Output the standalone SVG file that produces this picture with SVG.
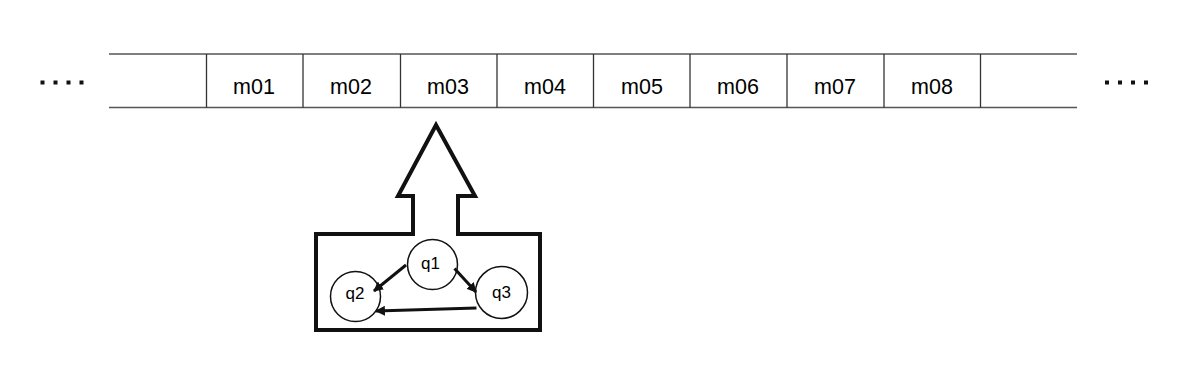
<svg xmlns="http://www.w3.org/2000/svg" width="1200" height="384" viewBox="0 0 1200 384">
<style>
.tape{stroke:#555;stroke-width:1.5;fill:none}
.div{stroke:#333;stroke-width:1.3}
.lbl{font-family:"Liberation Sans",Arial,sans-serif;font-size:21.5px;fill:#000;text-anchor:middle}
.ql{font-family:"Liberation Sans",Arial,sans-serif;font-size:17px;fill:#000;text-anchor:middle}
.st{fill:#fff;stroke:#111;stroke-width:1.5}
.edge{stroke:#111;stroke-width:3;fill:none;marker-end:url(#ah)}
.dot{fill:#111}
</style>
<defs>
<marker id="ah" viewBox="0 0 10 10" refX="9" refY="5" markerWidth="3.3" markerHeight="3.3" orient="auto" markerUnits="strokeWidth">
<path d="M0,0 L10,5 L0,10 Z" fill="#111"/>
</marker>
</defs>
<rect width="1200" height="384" fill="#fff"/>
<g id="dots-left">
<rect class="dot" x="40.5" y="80.5" width="4" height="4"/>
<rect class="dot" x="53.5" y="80.5" width="4" height="4"/>
<rect class="dot" x="66.5" y="80.5" width="4" height="4"/>
<rect class="dot" x="79.5" y="80.5" width="4" height="4"/>
</g>
<g id="dots-right">
<rect class="dot" x="1105" y="80.5" width="4" height="4"/>
<rect class="dot" x="1118" y="80.5" width="4" height="4"/>
<rect class="dot" x="1131" y="80.5" width="4" height="4"/>
<rect class="dot" x="1144" y="80.5" width="4" height="4"/>
</g>
<g id="tape">
<line class="tape" x1="109" y1="54" x2="1077" y2="54"/>
<line class="tape" x1="109" y1="107.5" x2="1077" y2="107.5"/>
<line class="div" x1="206.5" y1="54" x2="206.5" y2="107.5"/>
<line class="div" x1="303" y1="54" x2="303" y2="107.5"/>
<line class="div" x1="400.5" y1="54" x2="400.5" y2="107.5"/>
<line class="div" x1="497" y1="54" x2="497" y2="107.5"/>
<line class="div" x1="593.5" y1="54" x2="593.5" y2="107.5"/>
<line class="div" x1="690" y1="54" x2="690" y2="107.5"/>
<line class="div" x1="787" y1="54" x2="787" y2="107.5"/>
<line class="div" x1="884" y1="54" x2="884" y2="107.5"/>
<line class="div" x1="980.5" y1="54" x2="980.5" y2="107.5"/>
</g>
<g id="cells">
<text class="lbl" x="254" y="93.5">m01</text>
<text class="lbl" x="351" y="93.5">m02</text>
<text class="lbl" x="448" y="93.5">m03</text>
<text class="lbl" x="545" y="93.5">m04</text>
<text class="lbl" x="642" y="93.5">m05</text>
<text class="lbl" x="738" y="93.5">m06</text>
<text class="lbl" x="835" y="93.5">m07</text>
<text class="lbl" x="932" y="93.5">m08</text>
</g>
<g id="machine">
<path d="M316,234 L413,234 L413,196 L398,196 L436,125 L475,196 L458,196 L458,234 L540,234 L540,330 L316,330 Z" fill="#fff" stroke="#111" stroke-width="4" stroke-linejoin="miter"/>
</g>
<g id="q1">
<circle class="st" cx="432.5" cy="264.5" r="25"/>
<text class="ql" x="430.5" y="269">q1</text>
</g>
<g id="q2">
<circle class="st" cx="355.5" cy="296.5" r="25"/>
<text class="ql" x="355" y="299">q2</text>
</g>
<g id="q3">
<circle class="st" cx="501.5" cy="292.5" r="26"/>
<text class="ql" x="501.5" y="298">q3</text>
</g>
<g id="connectors">
<line class="edge" x1="406" y1="265" x2="374" y2="291"/>
<line class="edge" x1="454.5" y1="268.5" x2="476" y2="292"/>
<line class="edge" x1="476.5" y1="308" x2="376" y2="311"/>
</g>
</svg>
